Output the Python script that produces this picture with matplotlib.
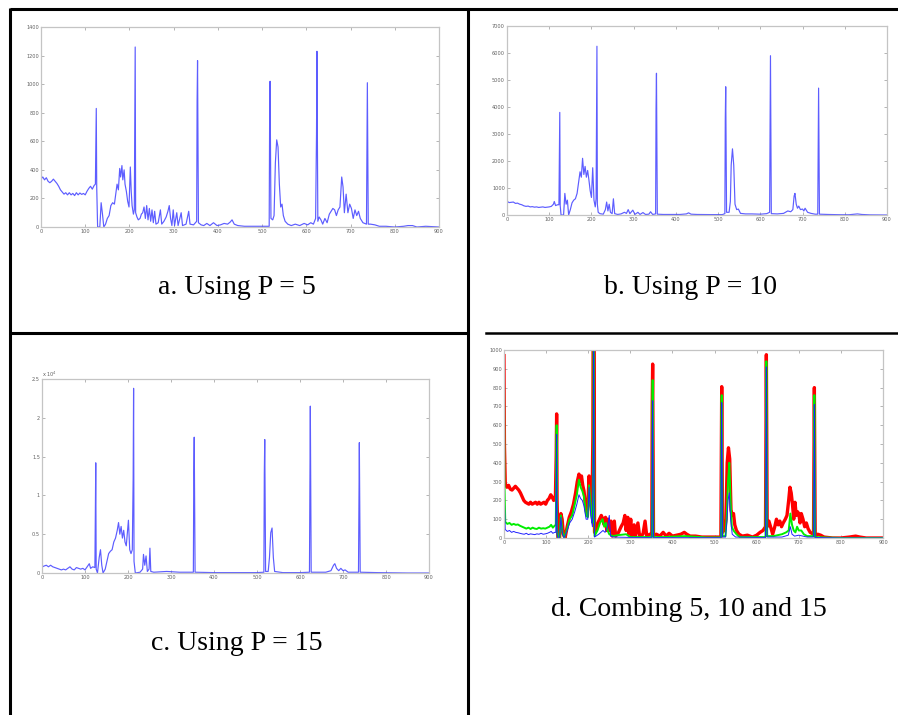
import numpy as np
import matplotlib
matplotlib.use("Agg")
import matplotlib.pyplot as plt
from matplotlib.ticker import FormatStrFormatter

# ---- data (sample index, value) ----
a_pts = [(0,1230),(1,340),(4,350),(8,330),(12,345),(16,320),(20,310),(24,320),(28,335),(32,320),(36,305),
         (40,285),(44,260),(48,245),(52,230),(56,240),(60,225),(64,240),(68,225),(72,235),(76,220),(80,240),
         (84,225),(88,238),(92,228),(96,235),(100,225),(104,250),(108,270),(112,285),(116,265),(120,290),
         (123,300),(124,550),(125,830),(126,280),(128,0),(133,0),(136,170),(139,90),(142,0),(146,20),(150,60),
         (154,80),(158,150),(162,170),(166,160),(169,230),(172,300),(175,260),(178,410),(180,350),(183,430),
         (185,330),(188,400),(190,300),(193,250),(196,180),(199,140),(202,420),(204,250),(206,150),(209,90),
         (211,120),(212,680),(213,1260),(214,100),(217,70),(220,50),(224,60),(227,90),(230,100),(233,140),
         (236,60),(239,150),(242,50),(245,130),(248,40),(251,120),(254,30),(257,110),(260,20),(265,30),
         (270,120),(273,20),(278,40),(283,70),(287,110),(290,150),(293,60),(296,10),(299,120),(302,10),
         (307,100),(310,10),(317,100),(320,10),(328,20),(334,110),(337,20),(345,15),(352,40),(353,880),
         (354,1165),(356,30),(362,15),(368,10),(375,25),(382,10),(390,30),(398,10),(406,15),(414,25),(422,20),
         (428,35),(432,50),(437,20),(445,10),(460,5),(480,5),(500,5),(516,5),(517,770),(518,1020),(520,60),
         (524,50),(527,80),(530,450),(533,610),(536,560),(539,300),(542,140),(545,160),(548,80),(552,40),
         (558,20),(566,10),(575,20),(585,10),(595,25),(603,15),(610,30),(616,20),(621,60),(623,650),(624,1230),
         (626,40),(629,70),(633,50),(637,20),(642,60),(647,30),(652,90),(656,110),(660,130),(664,120),(668,80),
         (672,120),(676,140),(680,350),(683,280),(686,100),(690,230),(694,100),(698,160),(702,130),(706,60),
         (710,120),(714,80),(718,110),(722,60),(728,30),(736,20),(737,510),(738,1010),(740,20),(745,20),
         (755,15),(765,5),(780,5),(800,0),(820,5),(830,10),(840,10),(850,0),(870,5),(900,0)]

b_pts = [(0,5700),(1,500),(5,460),(10,470),(15,480),(20,430),(25,440),(30,400),(35,380),(40,340),(45,320),
         (50,330),(55,300),(60,310),(65,290),(70,300),(75,280),(80,290),(85,300),(90,280),(95,290),(100,300),
         (105,320),(110,400),(112,500),(115,350),(120,380),(123,380),(124,2050),(125,3800),(126,350),(128,0),
         (134,0),(137,800),(140,400),(143,550),(146,0),(150,200),(154,450),(158,550),(162,600),(166,800),
         (170,1250),(173,1600),(176,1400),(179,2100),(182,1500),(185,1800),(188,1400),(191,1650),(194,1300),
         (197,900),(200,650),(203,1750),(206,550),(209,300),(211,600),(212,3250),(213,6250),(214,400),(216,100),
         (220,50),(228,30),(233,200),(236,480),(239,150),(242,400),(245,100),(249,50),(252,600),(255,50),
         (262,20),(270,40),(278,100),(283,60),(287,200),(291,50),(298,180),(303,20),(310,100),(315,20),
         (322,90),(328,20),(336,30),(340,120),(345,20),(352,40),(353,3900),(354,5250),(356,30),(370,20),
         (390,20),(410,20),(425,40),(430,80),(436,30),(450,20),(480,15),(510,15),(516,50),(517,3550),
         (518,4750),(520,100),(526,100),(529,500),(531,1850),(534,2450),(537,1850),(540,400),(544,200),
         (548,220),(553,60),(565,40),(580,40),(600,30),(615,50),(622,100),(623,2950),(624,5900),(626,50),
         (640,40),(655,60),(665,150),(672,120),(677,200),(680,700),(682,800),(685,400),(688,250),(691,330),
         (695,200),(700,220),(703,150),(706,250),(712,100),(720,60),(730,30),(736,30),(737,2350),(738,4700),
         (740,30),(760,20),(790,10),(810,10),(830,40),(840,20),(860,5),(900,0)]

# panel c, values in units of 10^4
c_pts = [(0,1.98),(1,0.08),(5,0.09),(10,0.1),(15,0.08),(20,0.1),(25,0.08),(30,0.07),(35,0.06),(40,0.05),
         (45,0.04),(50,0.05),(55,0.04),(60,0.06),(65,0.08),(70,0.05),(75,0.04),(80,0.07),(85,0.06),(90,0.05),
         (95,0.06),(100,0.04),(105,0.08),(110,0.12),(113,0.06),(118,0.08),(123,0.07),(124,0.72),(125,1.42),
         (126,0.05),(129,0),(133,0.2),(136,0.3),(139,0.1),(142,0),(147,0.05),(151,0.15),(155,0.25),(159,0.28),
         (163,0.3),(167,0.4),(171,0.45),(175,0.55),(178,0.65),(181,0.5),(184,0.6),(187,0.45),(190,0.55),
         (193,0.4),(196,0.35),(199,0.55),(201,0.68),(204,0.3),(207,0.25),(210,0.3),(212,1.22),(213,2.38),
         (214,0.15),(217,0),(228,0.01),(234,0.05),(236,0.24),(239,0.1),(242,0.22),(245,0.02),(249,0.05),
         (251,0.32),(253,0.02),(260,0.01),(290,0.02),(320,0.01),(352,0.01),(353,1.3),(354,1.75),(356,0.01),
         (400,0.005),(450,0.005),(500,0.005),(516,0.01),(517,1.28),(518,1.72),(520,0.02),(526,0.02),(529,0.2),
         (532,0.52),(535,0.58),(538,0.2),(541,0.02),(560,0.005),(600,0.005),(622,0.01),(623,1.08),(624,2.15),
         (626,0.01),(660,0.01),(672,0.03),(678,0.1),(681,0.12),(685,0.06),(690,0.03),(695,0.06),(700,0.03),
         (705,0.04),(712,0.01),(736,0.01),(737,0.84),(738,1.68),(740,0.01),(780,0.005),(850,0),(900,0)]

d_red = [(0,970),(1,500),(3,290),(7,270),(11,280),(15,260),(19,255),(23,265),(27,275),(31,265),(35,255),
         (39,240),(43,220),(47,200),(51,190),(55,185),(59,180),(63,190),(67,180),(71,185),(75,190),(79,180),
         (83,190),(87,180),(91,185),(95,190),(99,180),(103,200),(107,210),(111,230),(114,220),(118,200),
         (122,210),(124,440),(125,660),(126,200),(128,0),(132,0),(135,130),(138,100),(141,20),(145,0),(150,60),
         (155,110),(160,140),(165,180),(170,240),(174,300),(178,340),(181,300),(184,330),(187,280),(190,250),
         (194,160),(198,120),(202,330),(205,200),(209,150),(211,540),(212,1300),(214,1300),(215,30),(219,50),
         (223,80),(227,100),(231,120),(235,100),(238,70),(241,110),(244,40),(247,100),(250,40),(254,90),
         (257,10),(262,90),(265,10),(272,30),(278,60),(283,80),(287,120),(290,40),(294,110),(297,20),(301,100),
         (304,10),(309,70),(312,10),(318,80),(322,10),(330,20),(335,90),(339,10),(346,20),(351,20),(352,700),
         (353,925),(355,15),(362,20),(370,10),(378,30),(385,10),(392,25),(400,10),(410,15),(420,20),(428,30),
         (434,20),(442,10),(455,10),(470,5),(490,5),(510,5),(515,5),(516,400),(517,805),(519,30),(524,50),
         (527,100),(530,400),(533,480),(536,420),(539,150),(542,120),(545,130),(548,70),(552,40),(558,20),
         (566,10),(578,15),(590,5),(600,15),(608,30),(615,40),(621,60),(622,500),(623,975),(625,60),(629,90),
         (633,60),(638,20),(643,60),(647,100),(651,70),(655,90),(659,60),(663,80),(668,100),(672,120),(676,200),
         (679,270),(682,240),(685,180),(688,100),(691,190),(694,120),(697,140),(700,130),(703,80),(706,130),
         (710,100),(714,60),(718,80),(722,50),(727,30),(735,20),(736,400),(737,800),(739,10),(745,20),(752,15),
         (760,5),(780,0),(800,0),(820,5),(835,10),(845,5),(860,0),(900,0)]

d_green = [(0,910),(1,300),(3,85),(8,75),(13,80),(18,70),(23,75),(28,70),(33,72),(38,65),(43,60),(48,55),
           (53,50),(58,55),(63,48),(68,55),(73,50),(78,48),(83,55),(88,50),(93,52),(98,50),(103,55),(108,60),
           (112,70),(116,55),(120,65),(123,70),(124,320),(125,600),(126,50),(128,0),(132,0),(135,120),(139,30),
           (143,0),(150,50),(156,100),(162,120),(168,180),(173,230),(178,310),(182,270),(186,250),(190,220),
           (195,120),(199,110),(202,280),(206,150),(210,80),(212,520),(213,1300),(214,500),(215,10),(222,40),
           (228,80),(234,100),(238,60),(242,80),(246,40),(250,20),(258,10),(270,15),(290,20),(300,5),(330,5),
           (351,5),(352,420),(353,840),(355,5),(380,5),(430,10),(480,3),(515,3),(516,560),(517,760),(519,10),
           (526,10),(529,120),(532,300),(535,400),(538,200),(541,60),(545,40),(552,20),(560,5),(600,5),(621,5),
           (622,470),(623,940),(625,10),(640,10),(660,20),(670,30),(676,40),(680,130),(684,70),(688,40),
           (692,30),(696,60),(700,40),(706,40),(712,20),(720,10),(735,10),(736,380),(737,760),(739,5),(760,3),
           (800,0),(900,0)]

d_blue = [(0,820),(1,200),(3,45),(8,35),(13,40),(18,30),(23,35),(28,30),(33,28),(38,25),(43,22),(48,20),
          (53,25),(58,18),(63,22),(68,20),(73,18),(78,22),(83,20),(88,25),(93,20),(98,22),(103,25),(108,30),
          (112,35),(116,25),(120,30),(123,30),(124,300),(125,550),(126,20),(128,0),(132,0),(135,110),(139,20),
          (143,0),(150,40),(156,80),(162,100),(168,140),(173,180),(178,230),(182,210),(186,200),(190,170),
          (195,100),(199,100),(202,270),(206,120),(210,60),(212,500),(213,1300),(214,400),(215,5),(225,20),
          (235,40),(240,30),(246,60),(250,120),(253,10),(260,5),(300,3),(351,3),(352,550),(353,730),(355,3),
          (400,2),(500,2),(515,2),(516,500),(517,720),(519,5),(526,5),(529,80),(532,200),(535,240),(538,100),
          (542,20),(550,5),(600,3),(621,3),(622,460),(623,910),(625,5),(660,5),(675,15),(680,60),(684,20),
          (690,10),(700,15),(720,5),(735,5),(736,350),(737,710),(739,3),(800,0),(900,0)]

captions = ["a. Using P = 5", "b. Using P = 10", "c. Using P = 15", "d. Combing 5, 10 and 15"]

W, H = 898, 715
fig = plt.figure(figsize=(W / 100, H / 100), dpi=100)

# background axes in pixel coords for the table grid and captions
bg = fig.add_axes([0, 0, 1, 1])
bg.set_xlim(0, W)
bg.set_ylim(H, 0)
bg.axis("off")
lk = dict(color="black", lw=2.2, solid_capstyle="butt")
bg.plot([10, 898], [9, 9], **lk)
bg.plot([10, 10], [8, 715], **lk)
bg.plot([468, 468], [8, 715], **lk)
bg.plot([10, 468], [333, 333], **lk)
bg.plot([486, 898], [333, 333], color="black", lw=1.8)

cap_font = dict(family="Liberation Serif", fontsize=20, ha="center", va="center")
bg.text(237, 288, captions[0], **cap_font)
bg.text(691, 288, captions[1], **cap_font)
bg.text(237, 644, captions[2], **cap_font)
bg.text(689, 609, captions[3], **cap_font)


def make_ax(l, r, t, b):
    ax = fig.add_axes([l / W, 1 - b / H, (r - l) / W, (b - t) / H])
    for s in ax.spines.values():
        s.set_color("#c4c4c4")
        s.set_linewidth(0.9)
    ax.tick_params(direction="in", length=2.2, width=0.6, color="#a8a8a8",
                   labelsize=3.6, labelcolor="#606060", pad=1.5,
                   top=True, right=True)
    ax.set_xlim(0, 900)
    ax.set_xticks(np.arange(0, 901, 100))
    return ax


def unzip(pts):
    arr = np.array(pts, dtype=float)
    return arr[:, 0], arr[:, 1]


blue = "#4040ff"

# a
ax = make_ax(41, 439, 27, 227)
x, y = unzip(a_pts)
ax.plot(x, y, color=blue, lw=0.85, alpha=0.85)
ax.set_ylim(0, 1400)
ax.set_yticks(np.arange(0, 1401, 200))

# b
ax = make_ax(507, 887, 26, 215)
x, y = unzip(b_pts)
ax.plot(x, y, color=blue, lw=0.85, alpha=0.85)
ax.set_ylim(0, 7000)
ax.set_yticks(np.arange(0, 7001, 1000))

# c
ax = make_ax(42, 429, 379, 573)
x, y = unzip(c_pts)
ax.plot(x, y, color=blue, lw=0.85, alpha=0.85)
ax.set_ylim(0, 2.5)
ax.set_yticks([0, 0.5, 1, 1.5, 2, 2.5])
ax.yaxis.set_major_formatter(FormatStrFormatter("%g"))
ax.text(0.0, 1.0, r"x 10$^4$", transform=ax.transAxes, fontsize=3.6,
        color="#606060", ha="left", va="bottom")

# d
ax = make_ax(504, 883, 350, 538)
x, y = unzip(d_red)
ax.plot(x, y, color="#ff0000", lw=2.4)
x, y = unzip(d_green)
ax.plot(x, y, color="#00ee00", lw=1.4)
x, y = unzip(d_blue)
ax.plot(x, y, color="#2020ff", lw=0.7)
ax.set_ylim(0, 1000)
ax.set_yticks(np.arange(0, 1001, 100))

fig.savefig("out.png", dpi=100)
